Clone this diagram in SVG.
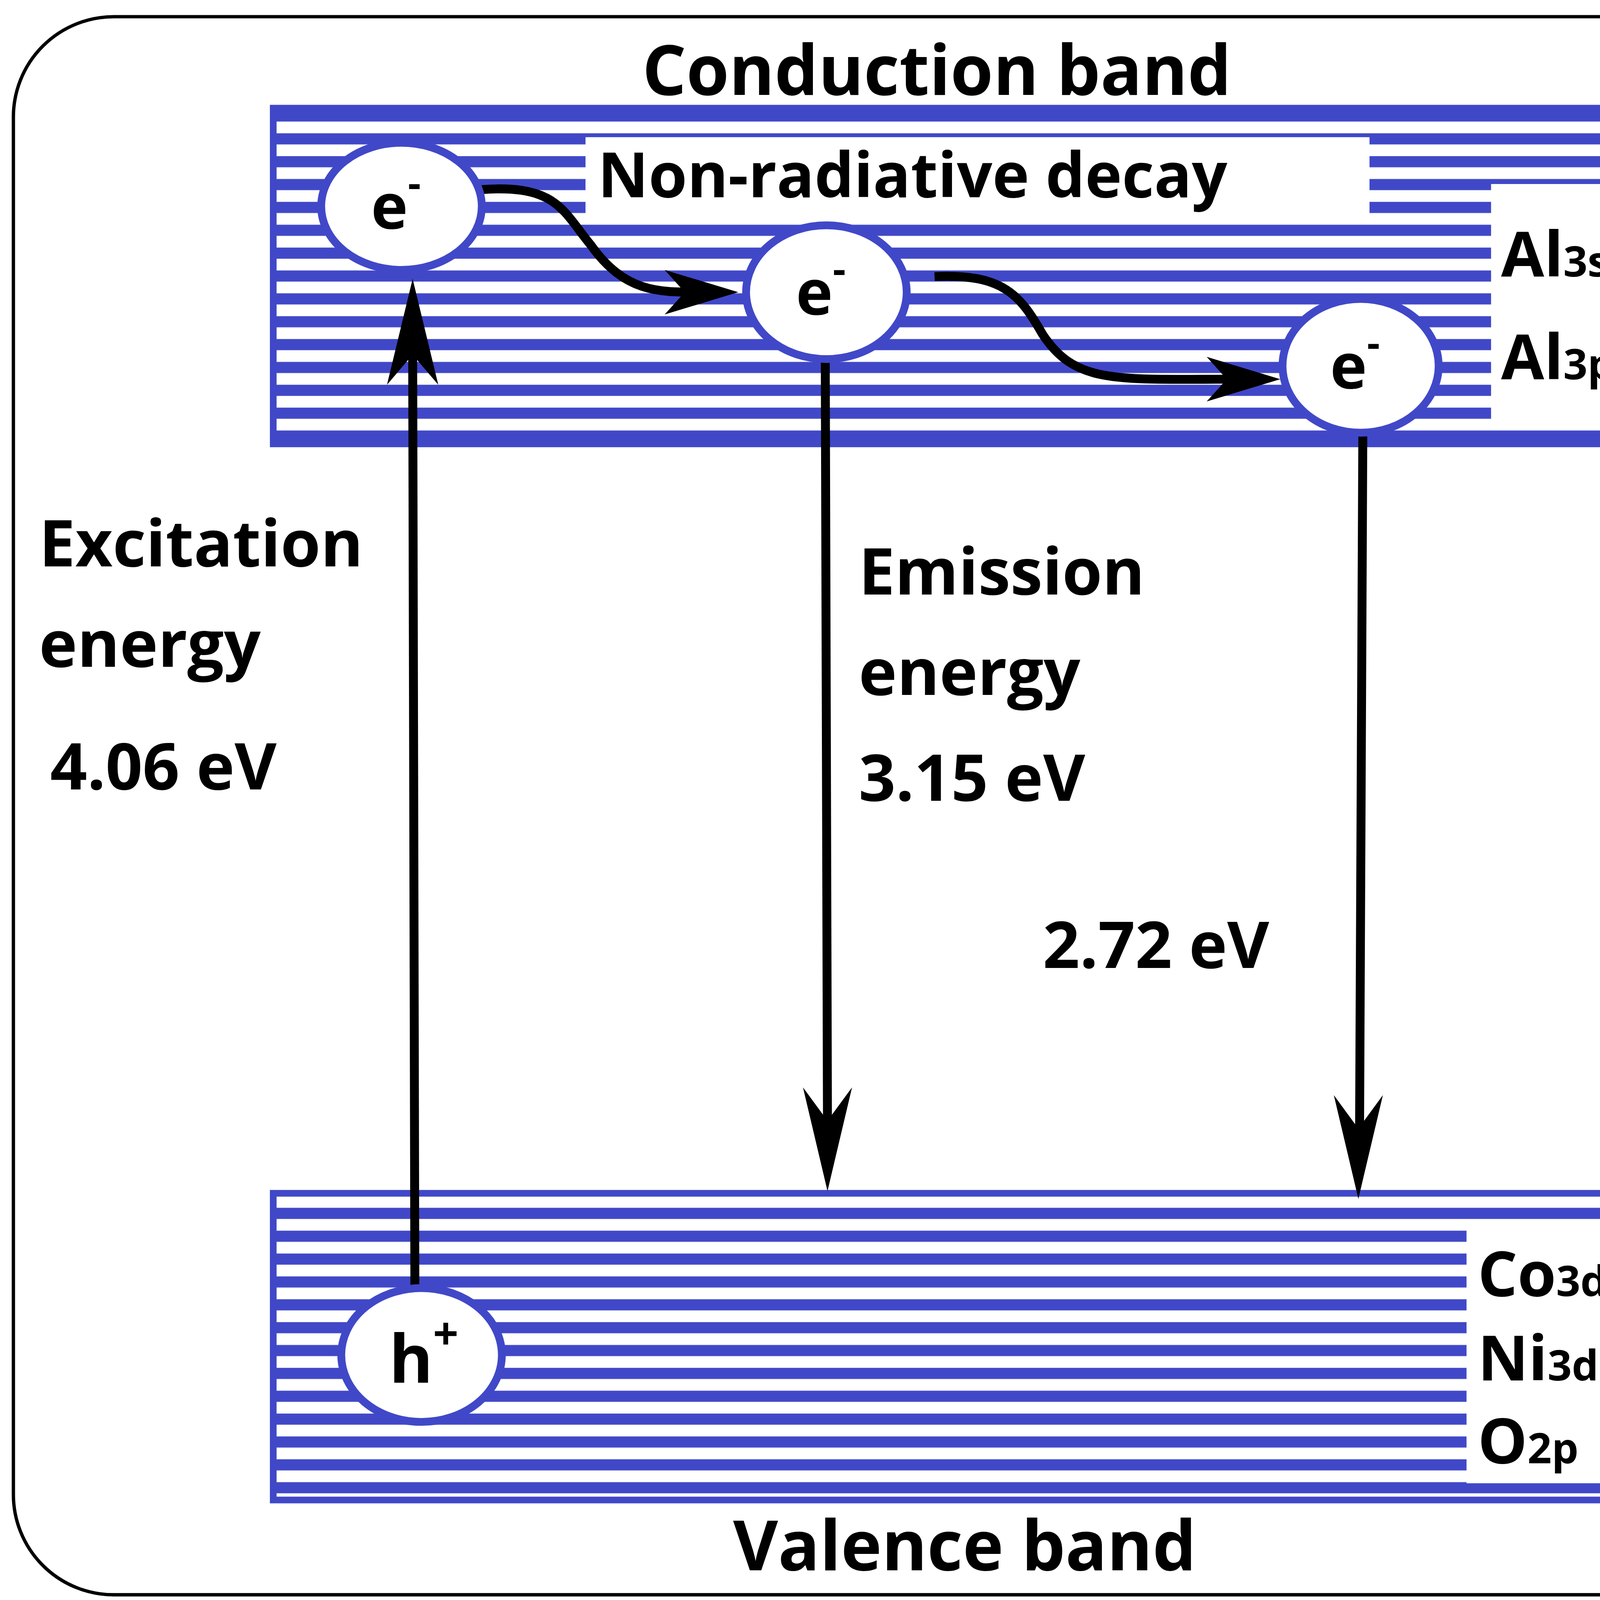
<svg xmlns="http://www.w3.org/2000/svg" width="4476" height="4128" viewBox="0 0 4476 4128">
<style>
.t{font-family:"Open Sans","Noto Sans",sans-serif;font-weight:700;fill:#000}
.band{fill:none;stroke:#4048c8;stroke-width:6}
.el{fill:#fff;stroke:#4048c8;stroke-width:7}
.ln{stroke:#000;stroke-width:8;fill:none}
.dot{stroke:#4048c8;stroke-width:5;stroke-dasharray:6 6}
</style>
<defs>
<pattern id="stripes" patternUnits="userSpaceOnUse" x="0" y="97" width="20" height="20.5">
<rect x="0" y="2" width="20" height="10" fill="#4048c8"/>
</pattern>
</defs>
<rect width="4476" height="4128" fill="#fff"/>
<g transform="scale(2.855)">
<rect x="12" y="15" width="1540" height="1415" rx="90" fill="none" stroke="#000" stroke-width="3"/>
<g id="conduction">
<rect x="245" y="97" width="1270" height="301" fill="url(#stripes)"/>
<rect x="245" y="97" width="1270" height="301" class="band"/>
<rect x="525" y="123" width="703" height="72" fill="#fff"/>
<rect x="1337" y="165" width="150" height="213" fill="#fff"/>
<line x1="1492" y1="165" x2="1492" y2="380" class="dot"/>
<text class="t" x="536" y="177" font-size="56">Non-radiative decay</text>
<text class="t" x="1346" y="248" font-size="56">Al<tspan font-size="38">3s</tspan></text>
<text class="t" x="1346" y="340" font-size="56">Al<tspan font-size="38">3p</tspan></text>
<text class="t" x="840" y="85" font-size="62" text-anchor="middle">Conduction band</text>
</g>
<g id="valence">
<rect x="245" y="1070" width="1255" height="275" fill="url(#stripes)"/>
<rect x="245" y="1070" width="1255" height="275" class="band"/>
<rect x="1315" y="1100" width="168" height="230" fill="#fff"/>
<line x1="1488" y1="1100" x2="1488" y2="1330" class="dot"/>
<text class="t" x="1325" y="1162" font-size="56">Co<tspan font-size="38">3d</tspan></text>
<text class="t" x="1325" y="1238" font-size="56">Ni<tspan font-size="38">3d</tspan></text>
<text class="t" x="1325" y="1312" font-size="56">O<tspan font-size="38">2p</tspan></text>
<text class="t" x="865" y="1408" font-size="62" text-anchor="middle">Valence band</text>
</g>
<g id="connectors">
<path d="M432,170 C500,165 505,190 530,220 C560,262 590,262 625,262" class="ln"/>
<path d="M662,262 L596,242 L614,262 L596,282 Z" fill="#000"/>
<path d="M838,248 C900,245 915,265 935,300 C965,345 1000,340 1110,340" class="ln"/>
<path d="M1148,340 L1082,320 L1100,340 L1082,360 Z" fill="#000"/>
<line x1="372" y1="1155" x2="370" y2="300" class="ln"/>
<path d="M370,250 L393,345 L370,318 L347,345 Z" fill="#000"/>
<line x1="740" y1="325" x2="742" y2="1020" class="ln"/>
<path d="M742,1068 L720,975 L742,1005 L764,975 Z" fill="#000"/>
<line x1="1222" y1="390" x2="1219" y2="1030" class="ln"/>
<path d="M1218,1075 L1196,982 L1218,1012 L1240,982 Z" fill="#000"/>
</g>
<g id="e1"><ellipse cx="360" cy="185" rx="72" ry="57" class="el"/><text class="t" x="355" y="205" font-size="56" text-anchor="middle">e<tspan font-size="36" dy="-28">-</tspan></text></g>
<g id="e2"><ellipse cx="741" cy="262" rx="72" ry="60" class="el"/><text class="t" x="736" y="282" font-size="56" text-anchor="middle">e<tspan font-size="36" dy="-28">-</tspan></text></g>
<g id="e3"><ellipse cx="1220" cy="328" rx="70" ry="60" class="el"/><text class="t" x="1215" y="348" font-size="56" text-anchor="middle">e<tspan font-size="36" dy="-28">-</tspan></text></g>
<g id="h"><ellipse cx="378" cy="1215" rx="72" ry="60" class="el"/><text class="t" x="380" y="1240" font-size="60" text-anchor="middle">h<tspan font-size="40" dy="-30">+</tspan></text></g>
<g id="labels">
<text class="t" x="35" y="508" font-size="58">Excitation</text>
<text class="t" x="35" y="598" font-size="58">energy</text>
<text class="t" x="45" y="708" font-size="58">4.06 eV</text>
<text class="t" x="770" y="533" font-size="58">Emission</text>
<text class="t" x="770" y="623" font-size="58">energy</text>
<text class="t" x="770" y="718" font-size="58">3.15 eV</text>
<text class="t" x="935" y="868" font-size="58">2.72 eV</text>
</g>
</g>
</svg>
